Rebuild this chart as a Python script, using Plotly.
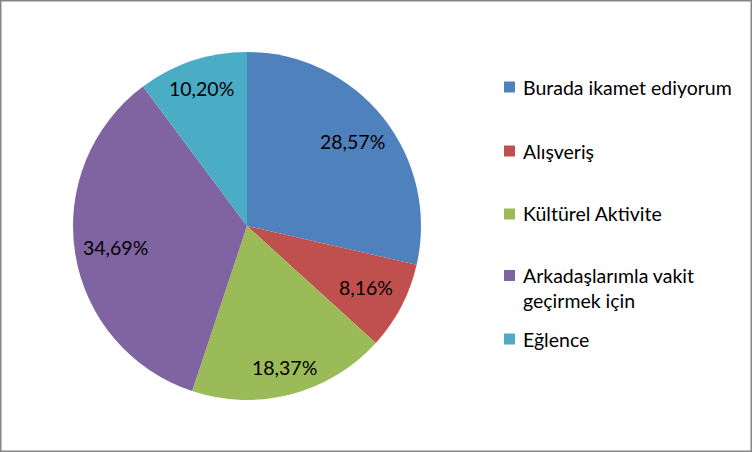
import math
import plotly.graph_objects as go

labels = ["Burada ikamet ediyorum", "Alışveriş", "Kültürel Aktivite",
          "Arkadaşlarımla vakit geçirmek için", "Eğlence"]
legend_text = ["Burada ikamet ediyorum", "Alışveriş", "Kültürel Aktivite",
               "Arkadaşlarımla vakit<br>geçirmek için", "Eğlence"]
values = [28.57, 8.16, 18.37, 34.69, 10.20]
colors = ["#4F81BD", "#C0504D", "#9BBB59", "#8064A2", "#4BACC6"]

W, H = 752, 452
FONT = "Lato"
FS = 19.5

# pie placement (pixels)
CX, CY, R = 247, 226, 174

fig = go.Figure()
fig.add_trace(go.Pie(
    labels=labels, values=values, sort=False, direction="clockwise", rotation=0,
    marker=dict(colors=colors, line=dict(width=0)),
    textinfo="none",
    domain=dict(x=[(CX - R) / W, (CX + R) / W], y=[(H - CY - R) / H, (H - CY + R) / H]),
    showlegend=False, hoverinfo="label+percent",
))

shapes = [dict(type="rect", xref="paper", yref="paper", x0=0, y0=0, x1=1, y1=1,
               line=dict(color="#868686", width=3), fillcolor="rgba(0,0,0,0)")]
annotations = []

# data labels near slice mid-angles (box pushed toward the rim, like Excel)
total = sum(values)
cum = 0.0
for v in values:
    mid = (cum + v / 2) / total * 2 * math.pi
    cum += v
    pct = f"{v / total * 100:.2f}".replace(".", ",") + "%"
    hw, hh = 0.5 * 3.2 * FS * 1.0, 10
    sx, sy = math.sin(mid), -math.cos(mid)
    # farthest corner of the label box sits near the rim
    target = 0.955 * R
    lo, hi = 0.0, R
    for _ in range(40):
        r = (lo + hi) / 2
        cx_, cy_ = r * sx, r * sy
        fx = cx_ + math.copysign(hw, sx)
        fy = cy_ + math.copysign(hh, sy)
        if math.hypot(fx, fy) > target:
            hi = r
        else:
            lo = r
    px = CX + lo * sx
    py = CY + lo * sy
    annotations.append(dict(xref="paper", yref="paper", x=px / W, y=1 - py / H,
                            xanchor="center", yanchor="middle", showarrow=False,
                            text=pct, font=dict(family=FONT, size=FS, color="black")))

# legend
ys = [87, 151, 214, 275.5, 339]
for lab, col, y in zip(legend_text, colors, ys):
    shapes.append(dict(type="rect", xref="paper", yref="paper",
                       x0=504 / W, x1=515 / W, y0=1 - (y + 5.5) / H, y1=1 - (y - 5.5) / H,
                       fillcolor=col, line=dict(width=0)))
    nlines = lab.count("<br>") + 1
    ty = y + (nlines - 1) * 12.5
    annotations.append(dict(xref="paper", yref="paper", x=521 / W, y=1 - ty / H,
                            xanchor="left", yanchor="middle", showarrow=False, align="left",
                            text=lab, font=dict(family=FONT, size=FS, color="black")))

fig.update_layout(
    width=W, height=H, margin=dict(l=0, r=0, t=0, b=0),
    paper_bgcolor="white", plot_bgcolor="white",
    separators=",.", shapes=shapes, annotations=annotations,
)
fig.write_html("out.html", config={"displayModeBar": False},
               post_script="document.body.style.margin='0';document.body.style.overflow='hidden';")
